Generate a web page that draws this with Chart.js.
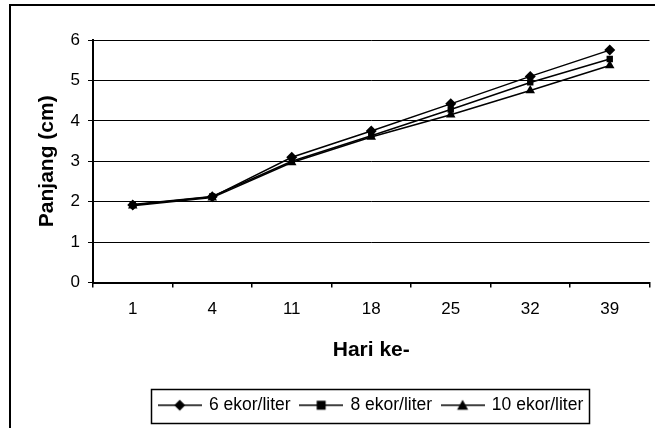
<!DOCTYPE html>
<html>
<head>
<meta charset="utf-8">
<script src="https://cdn.jsdelivr.net/npm/chart.js@4/dist/chart.umd.min.js"></script>
<style>
  html, body { margin: 0; padding: 0; background: #fff; }
  #wrap { width: 655px; height: 428px; }
</style>
</head>
<body>
<div id="wrap"><canvas id="c" width="655" height="428"></canvas></div>
<script>
// Hari pengamatan (sumbu X)
const days = ['1', '4', '11', '18', '25', '32', '39'];
// Panjang rata-rata (cm) per kepadatan tebar
const density6 = [1.92, 2.12, 3.10, 3.75, 4.42, 5.10, 5.75];
const density8 = [1.93, 2.13, 3.00, 3.63, 4.28, 4.95, 5.53];
const density10 = [1.90, 2.10, 2.97, 3.60, 4.15, 4.75, 5.37];
const seriesNames = ['6 ekor/liter', '8 ekor/liter', '10 ekor/liter'];
const yTicks = [0, 1, 2, 3, 4, 5, 6];

const FONT = 'Liberation Sans, Arial, sans-serif';

// Legend symbol: short line with a marker in its middle
function legendSymbol(style) {
  const cv = document.createElement('canvas');
  cv.width = 44; cv.height = 14;
  const g = cv.getContext('2d');
  g.strokeStyle = '#000'; g.lineWidth = 1.5;
  g.beginPath(); g.moveTo(0, 7); g.lineTo(44, 7); g.stroke();
  g.fillStyle = '#000';
  g.beginPath();
  if (style === 'rectRot') {
    g.moveTo(22, 1.5); g.lineTo(27.5, 7); g.lineTo(22, 12.5); g.lineTo(16.5, 7);
  } else if (style === 'rect') {
    g.rect(17.5, 2.5, 9, 9);
  } else {
    g.moveTo(22, 1.5); g.lineTo(27.5, 11.5); g.lineTo(16.5, 11.5);
  }
  g.closePath(); g.fill();
  return cv;
}

const styles = ['rectRot', 'rect', 'triangle'];
const radii = [5.5, 4.5, 5.5];
const values = [density6, density8, density10];

const datasets = values.map((v, i) => ({
  label: seriesNames[i],
  data: v,
  borderColor: '#000',
  backgroundColor: '#000',
  borderWidth: 1.5,
  pointStyle: styles[i],
  pointRadius: radii[i],
  pointBorderWidth: 0,
  pointBackgroundColor: '#000',
  tension: 0
}));

// Centre the legend under the plot area rather than the whole canvas
const legendUnderPlot = {
  id: 'legendUnderPlot',
  beforeDraw(chart) {
    const lg = chart.legend, ca = chart.chartArea;
    if (!lg) return;
    const dx = (ca.left + ca.right) / 2 - (lg.left + lg.right) / 2;
    lg.left += dx;
    lg.right += dx;
    (lg.legendHitBoxes || []).forEach(h => { h.left += dx; });
  }
};

// Outer frame of the chart and a box round the legend
const frames = {
  id: 'frames',
  afterDraw(chart) {
    const ctx = chart.ctx;
    ctx.save();
    ctx.strokeStyle = '#000';
    ctx.lineWidth = 2;
    ctx.strokeRect(10, 5, 700, 500);
    const boxes = chart.legend.legendHitBoxes;
    if (boxes && boxes.length) {
      const first = boxes[0], last = boxes[boxes.length - 1];
      const x0 = first.left - 8, x1 = last.left + last.width + 6;
      const y0 = first.top - 8, y1 = first.top + first.height + 8;
      ctx.lineWidth = 1.5;
      ctx.strokeRect(Math.round(x0) + 0.5, Math.round(y0) + 0.5, Math.round(x1 - x0), Math.round(y1 - y0));
    }
    ctx.restore();
  }
};

new Chart(document.getElementById('c'), {
  type: 'line',
  data: { labels: days, datasets },
  plugins: [legendUnderPlot, frames],
  options: {
    responsive: false,
    animation: false,
    devicePixelRatio: 1,
    layout: { padding: { left: 0, top: 40, right: 3, bottom: 4 } },
    plugins: {
      tooltip: { enabled: false },
      legend: {
        position: 'bottom',
        labels: {
          color: '#000',
          font: { family: FONT, size: 17.5 },
          usePointStyle: true,
          pointStyleWidth: 41,
          padding: 10,
          generateLabels(chart) {
            return chart.data.datasets.map((d, i) => ({
              text: d.label,
              fillStyle: '#000',
              strokeStyle: '#000',
              lineWidth: 0,
              pointStyle: legendSymbol(styles[i]),
              datasetIndex: i,
              hidden: false,
              fontColor: '#000'
            }));
          }
        }
      }
    },
    scales: {
      x: {
        offset: true,
        afterFit(s) { s.height = 104; },
        grid: { offset: true, drawOnChartArea: false, drawTicks: true, tickLength: 5, color: '#000', lineWidth: 1.5 },
        border: { display: true, color: '#000', width: 2 },
        ticks: { color: '#000', font: { family: FONT, size: 17 }, padding: 12, maxRotation: 0 },
        title: { display: true, text: 'Hari ke-', color: '#000', font: { family: FONT, size: 21, weight: 'bold' }, padding: { top: 4, bottom: 24 } }
      },
      y: {
        min: 0, max: 6,
        afterFit(s) { s.width = 93; },
        afterBuildTicks(s) { s.ticks = yTicks.map(v => ({ value: v })); },
        grid: { color: '#000', lineWidth: 1, tickLength: 5, drawTicks: true },
        border: { display: true, color: '#000', width: 2 },
        ticks: { color: '#000', font: { family: FONT, size: 17 }, padding: 8 },
        title: { display: true, text: 'Panjang (cm)', color: '#000', font: { family: FONT, size: 21, weight: 'bold' }, padding: { top: 35, bottom: 0 } }
      }
    }
  }
});
</script>
</body>
</html>
